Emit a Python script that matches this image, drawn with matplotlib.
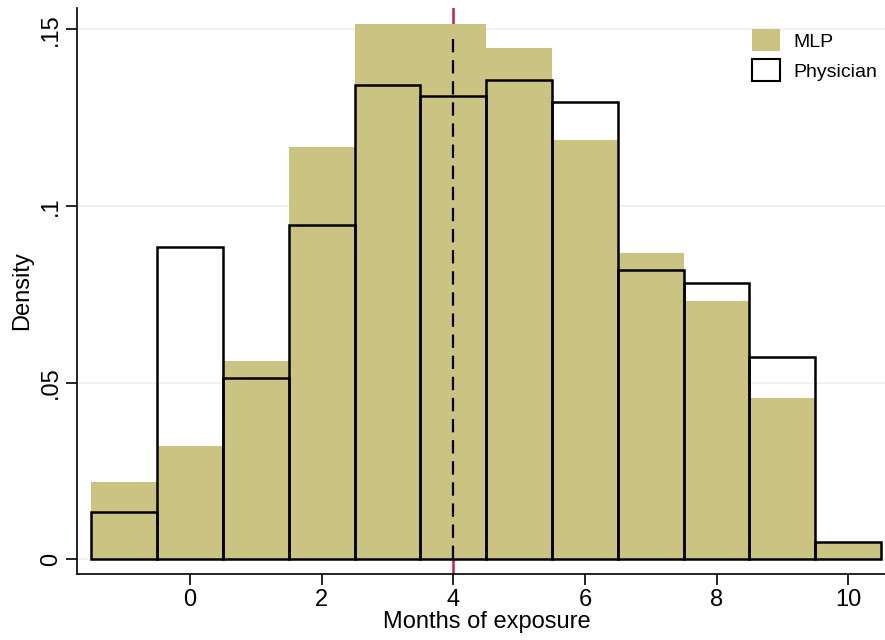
import matplotlib
matplotlib.use("Agg")
import matplotlib.pyplot as plt
import numpy as np
from matplotlib.patches import Patch

plt.rcParams['font.family'] = ['Liberation Sans', 'DejaVu Sans']

bin_centers = [-1, 0, 1, 2, 3, 4, 5, 6, 7, 8, 9, 10]
mlp_density = [0.0218, 0.032, 0.056, 0.1166, 0.1514, 0.1514, 0.1446, 0.1186, 0.0866, 0.073, 0.0456, 0.0048]
phys_density = [0.0133, 0.0883, 0.0512, 0.0945, 0.1342, 0.131, 0.1356, 0.1293, 0.0818, 0.0781, 0.0572, 0.0048]
ref_x = 4
ref_top = 0.148
xticks = [0, 2, 4, 6, 8, 10]
yticks = [0, 0.05, 0.1, 0.15]
ytick_labels = ['0', '.05', '.1', '.15']

tan = '#CBC382'

fig = plt.figure(figsize=(8.85, 6.4), dpi=100)
ax = fig.add_axes([77/885, 66/640, (885-77)/885, (574-8)/640])

ax.set_xlim(-1.72, 10.56)
ax.set_ylim(-0.0042, 0.156)

for y in yticks:
    ax.axhline(y, color='#EAF0F2', lw=1.2, zorder=0)

ax.axvline(ref_x, color='#C8204A', lw=1.8, zorder=1)

ax.bar(bin_centers, mlp_density, width=1.0, color=tan, edgecolor='none', zorder=2, label='MLP')
ax.bar(bin_centers, phys_density, width=1.0, facecolor='none', edgecolor='black', lw=1.8, zorder=3, label='Physician')

ax.vlines(ref_x, 0, ref_top, colors='black', linestyles=(0, (6, 3.5)), lw=1.6, zorder=4)

for s in ['top', 'right']:
    ax.spines[s].set_visible(False)
ax.spines['left'].set_linewidth(1.2)
ax.spines['bottom'].set_linewidth(1.2)

ax.set_xticks(xticks)
ax.set_xticklabels([str(t) for t in xticks], fontsize=17)
ax.set_yticks(yticks)
ax.set_yticklabels(ytick_labels, fontsize=17, rotation=90, va='center')
ax.tick_params(axis='both', direction='out', length=8, width=1.2, pad=3)

ax.set_xlabel('Months of exposure', fontsize=17, labelpad=0)
ax.xaxis.set_label_coords(0.507, -0.066)
ax.set_ylabel('Density', fontsize=17, labelpad=5)

handles = [Patch(facecolor=tan, edgecolor='none', label='MLP'),
           Patch(facecolor='white', edgecolor='black', lw=1.5, label='Physician')]
ax.legend(handles=handles, loc='upper right', bbox_to_anchor=(1.012, 0.993), frameon=False,
          fontsize=14, handlelength=1.45, handleheight=1.3, handletextpad=0.7, labelspacing=0.45)

fig.savefig('out.png', dpi=100)
